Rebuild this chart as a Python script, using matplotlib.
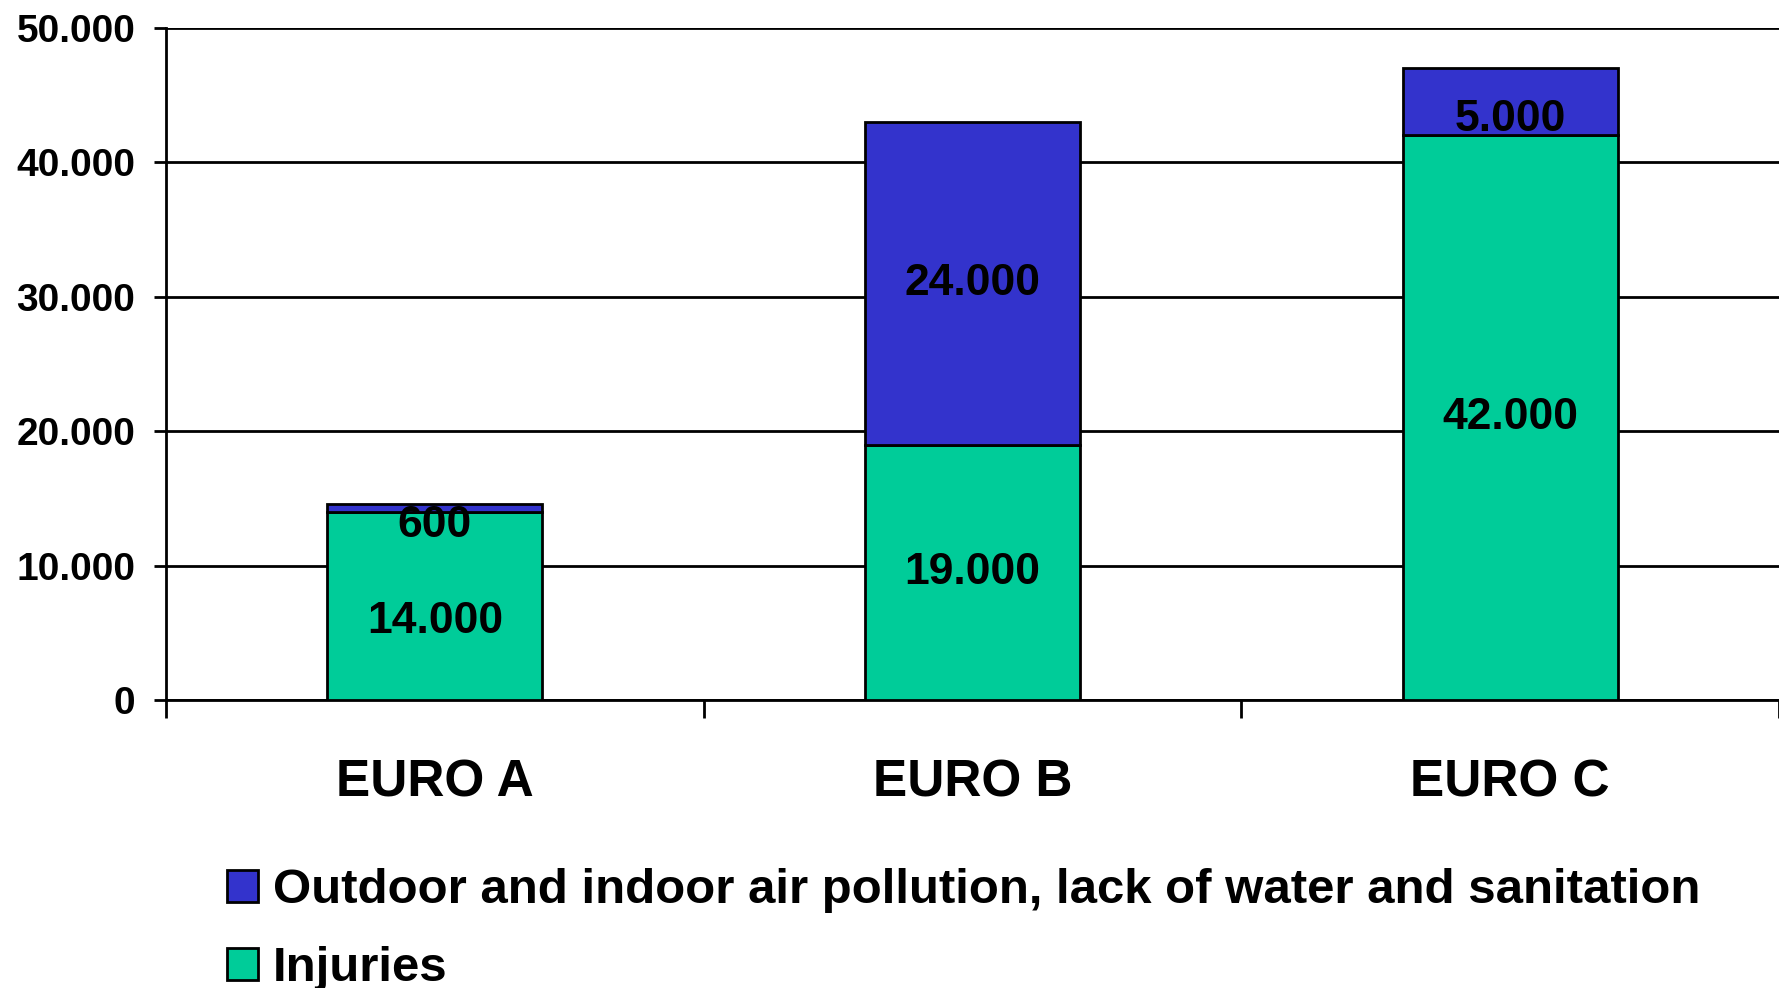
import matplotlib
matplotlib.use("Agg")
import matplotlib.pyplot as plt
import numpy as np
from matplotlib.ticker import FuncFormatter

plt.rcParams['font.family'] = ['Liberation Sans', 'DejaVu Sans']
plt.rcParams['font.weight'] = 'bold'

regions = ["EURO A", "EURO B", "EURO C"]
injuries = [14000, 19000, 42000]
pollution = [600, 24000, 5000]
injuries_labels = ["14.000", "19.000", "42.000"]
pollution_labels = ["600", "24.000", "5.000"]
series_names = ["Outdoor and indoor air pollution, lack of water and sanitation", "Injuries"]

blue = "#3333CC"
green = "#00CC99"

fig = plt.figure(figsize=(17.79, 9.88), dpi=100)
ax = fig.add_axes([0.0933, 0.2915, 0.9067, 0.6802])

x = np.arange(len(regions))
b1 = ax.bar(x, injuries, width=0.4, color=green, edgecolor="black", linewidth=2, zorder=3)
b2 = ax.bar(x, pollution, width=0.4, bottom=injuries, color=blue, edgecolor="black", linewidth=2, zorder=3)

# labels centred in each segment; short segments push their label down a bit (like Excel does)
for xi, inj, pol, il, pl in zip(x, injuries, pollution, injuries_labels, pollution_labels):
    small = pol < 6000
    ax.annotate(pl, (xi, inj + pol / 2), xytext=(0, -13 if small else 0), textcoords="offset points",
                ha="center", va="center", fontsize=32, fontweight="bold", zorder=4)
    ax.annotate(il, (xi, inj / 2), xytext=(0, -11 if (small and inj < 20000) else 0), textcoords="offset points",
                ha="center", va="center", fontsize=32, fontweight="bold", zorder=4)

ax.set_xlim(-0.5, 2.5)
ax.set_ylim(0, 50000)
ax.set_yticks(np.arange(0, 50001, 10000))
ax.yaxis.set_major_formatter(FuncFormatter(lambda v, p: "0" if v == 0 else f"{int(v):,}".replace(",", ".")))
ax.grid(axis="y", color="black", linewidth=2, zorder=1)
ax.tick_params(axis="y", length=9, width=2, labelsize=28, pad=13)

ax.set_xticks(x)
ax.set_xticklabels(regions, fontsize=37, fontweight="bold")
ax.set_xticks([-0.5, 0.5, 1.5, 2.5], minor=True)
ax.tick_params(axis="x", which="major", length=0, pad=42)
ax.tick_params(axis="x", which="minor", length=13, width=2)

for s in ["top", "right"]:
    ax.spines[s].set_visible(False)
ax.spines["left"].set_linewidth(2)
ax.spines["bottom"].set_linewidth(2)

leg = fig.legend([b2, b1], series_names, loc="upper left", bbox_to_anchor=(0.1276, 0.121),
                 frameon=False, fontsize=35.4, handlelength=0.63, handleheight=0.63,
                 handletextpad=0.3, labelspacing=0.66, borderpad=0, borderaxespad=0)

fig.savefig("out.png", dpi=100)
